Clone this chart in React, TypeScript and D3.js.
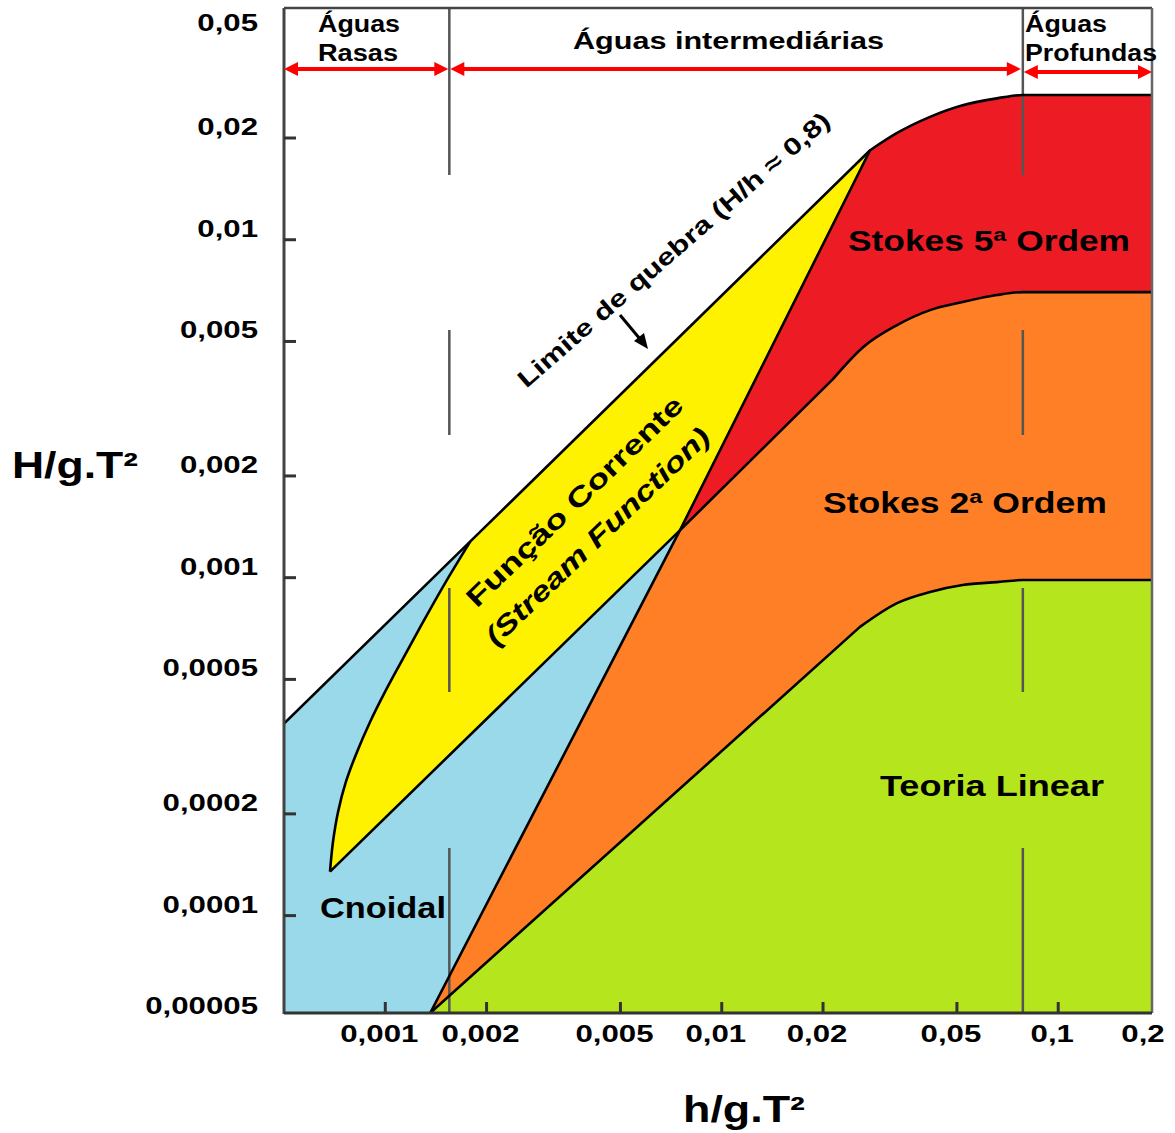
import React from "react";
import * as d3 from "d3";

// ---- data (h/gT², H/gT²) ----
const xTicks = [0.001, 0.002, 0.005, 0.01, 0.02, 0.05, 0.1, 0.2];
const xTickLabels = ["0,001", "0,002", "0,005", "0,01", "0,02", "0,05", "0,1", "0,2"];
const yTicks = [0.05, 0.02, 0.01, 0.005, 0.002, 0.001, 0.0005, 0.0002, 0.0001, 0.00005];
const yTickLabels = ["0,05", "0,02", "0,01", "0,005", "0,002", "0,001", "0,0005", "0,0002", "0,0001", "0,00005"];

// Breaking limit (H/h ≈ 0,8) – straight part then curved part
const breakingLimitStraight: [number, number][] = [
  [0.0005, 0.00037], [0.00179, 0.00128], [0.0276, 0.0184],
];
const breakingLimitCurve: [number, number][] = [
  [0.0276, 0.0184], [0.0332, 0.0207], [0.0416, 0.0231], [0.052, 0.025],
  [0.0657, 0.0262], [0.0785, 0.0268], [0.19, 0.0268],
];
// Lower limit of Stokes 5th order / Stream function
const stokes5LowerStraight: [number, number][] = [
  [0.000685, 0.000135], [0.00751, 0.00138], [0.0214, 0.00387],
];
const stokes5LowerCurve: [number, number][] = [
  [0.0214, 0.00387], [0.0263, 0.00481], [0.0332, 0.00559], [0.0416, 0.00619],
  [0.052, 0.00654], [0.0657, 0.00686], [0.0785, 0.007], [0.19, 0.007],
];
// Lower limit of Stokes 2nd order (upper limit of linear theory)
const stokes2LowerStraight: [number, number][] = [
  [0.00136, 0.0000515], [0.0257, 0.000714],
];
const stokes2LowerCurve: [number, number][] = [
  [0.0257, 0.000714], [0.0332, 0.000841], [0.0416, 0.000907],
  [0.052, 0.000951], [0.0657, 0.00097], [0.0785, 0.000984], [0.19, 0.000984],
];
// Cnoidal / Stokes boundary
const cnoidalLimit: [number, number][] = [
  [0.00136, 0.0000515], [0.00751, 0.00138], [0.0276, 0.0184],
];
// Left boundary of Stream Function region
const streamFunctionLeft: [number, number][] = [
  [0.000685, 0.000135], [0.000699, 0.000165], [0.000724, 0.000203], [0.000764, 0.000249],
  [0.000824, 0.000305], [0.000901, 0.000374], [0.000998, 0.000459], [0.00111, 0.000559],
  [0.00127, 0.000714], [0.0015, 0.000957], [0.00179, 0.00128],
];
const shallowLimit = 0.00155;
const deepLimit = 0.0785;

const X_DOMAIN: [number, number] = [0.0005, 0.19];
const Y_DOMAIN: [number, number] = [0.0000515, 0.0485];

const COLORS = {
  cnoidal: "#99D9EA",
  stream: "#FFF200",
  stokes5: "#ED1C24",
  stokes2: "#FF7F27",
  linear: "#B5E61D",
};

const FONT = "'Liberation Sans', Arial, Helvetica, sans-serif";

// ---- layout ----
const W = 1175, H = 1133;
const L = 284, R = 1152, T = 8, B = 1013;

type Pt = [number, number];

function Txt(props: { x: number; y: number; w: number; fs: number; text: string; rot?: number; italic?: boolean }) {
  const { x, y, w, fs, text, rot = 0, italic = false } = props;
  if (rot) {
    return (
      <text transform={`translate(${x},${y}) rotate(${rot})`} x={-w / 2} y={0} fontSize={fs} fontWeight="bold"
        fontStyle={italic ? "italic" : "normal"} fontFamily={FONT} textLength={w} lengthAdjust="spacingAndGlyphs" fill="#000">
        {text}
      </text>
    );
  }
  return (
    <text x={x} y={y} fontSize={fs} fontWeight="bold" fontFamily={FONT} textLength={w}
      fontStyle={italic ? "italic" : "normal"} lengthAdjust="spacingAndGlyphs" fill="#000">
      {text}
    </text>
  );
}

function Arrow2({ x1, x2, y }: { x1: number; x2: number; y: number }) {
  const hl = 14, hh = 7;
  return (
    <g>
      <line x1={x1 + hl - 2} x2={x2 - hl + 2} y1={y} y2={y} stroke="#FF0000" strokeWidth={4} />
      <polygon points={`${x1},${y} ${x1 + hl},${y - hh} ${x1 + hl},${y + hh}`} fill="#FF0000" />
      <polygon points={`${x2},${y} ${x2 - hl},${y - hh} ${x2 - hl},${y + hh}`} fill="#FF0000" />
    </g>
  );
}

export default function App() {
  const x = d3.scaleLog().domain(X_DOMAIN).range([L, R]);
  const y = d3.scaleLog().domain(Y_DOMAIN).range([B, T]);

  const lin = d3.line<Pt>().x((d) => x(d[0])).y((d) => y(d[1])).curve(d3.curveLinear);
  const smooth = d3.line<Pt>().x((d) => x(d[0])).y((d) => y(d[1])).curve(d3.curveMonotoneX);
  const catm = d3.line<Pt>().x((d) => x(d[0])).y((d) => y(d[1])).curve(d3.curveCatmullRom.alpha(0.5));

  const chain = (...parts: string[]) =>
    parts.map((p, i) => (i === 0 ? p : "L" + p.slice(1))).join("");
  const join = (...parts: string[]) => chain(...parts) + "Z";

  const xmin = X_DOMAIN[0], xmax = X_DOMAIN[1], ymin = Y_DOMAIN[0];
  const J = cnoidalLimit[1];
  const P2 = cnoidalLimit[2];
  const bottomStart = cnoidalLimit[0];

  const breakingPath = chain(lin(breakingLimitStraight)!, smooth(breakingLimitCurve)!);
  const stokes5Path = chain(lin(stokes5LowerStraight)!, smooth(stokes5LowerCurve)!);
  const stokes2Path = chain(lin(stokes2LowerStraight)!, smooth(stokes2LowerCurve)!);

  const cyanPath = join(
    lin([[xmin, ymin], ...breakingLimitStraight] as Pt[])!,
    lin([J, bottomStart])!
  );
  const redPath = join(
    lin([bottomStart, J, P2])!,
    smooth(breakingLimitCurve)!,
    lin([[xmax, ymin]])!
  );
  const yellowPath = join(
    catm(streamFunctionLeft)!,
    lin([breakingLimitStraight[1], P2, J])!,
    lin([stokes5LowerStraight[0]])!
  );
  const orangePath = join(
    lin([bottomStart, J, stokes5LowerStraight[2]])!,
    smooth(stokes5LowerCurve)!,
    lin([[xmax, ymin]])!
  );
  const greenPath = join(stokes2Path, lin([[xmax, ymin]])!);

  const xs = x(shallowLimit), xd = x(deepLimit);
  const dash = "167 155 105 153 104 156 170";

  return (
    <svg width={W} height={H} style={{ position: "absolute", left: 0, top: 0, background: "#fff" }}>
      <defs>
        <clipPath id="plot">
          <rect x={L} y={T} width={R - L} height={B - T} />
        </clipPath>
      </defs>
      <rect x={0} y={0} width={W} height={H} fill="#fff" />
      <g clipPath="url(#plot)">
        <path d={cyanPath} fill={COLORS.cnoidal} />
        <path d={redPath} fill={COLORS.stokes5} />
        <path d={yellowPath} fill={COLORS.stream} />
        <path d={orangePath} fill={COLORS.stokes2} />
        <path d={greenPath} fill={COLORS.linear} />
      </g>

      {/* divider lines */}
      <line x1={xs} x2={xs} y1={T} y2={B} stroke="#555" strokeWidth={2.5} strokeDasharray={dash} />
      <line x1={xd} x2={xd} y1={T} y2={B} stroke="#555" strokeWidth={2.5} strokeDasharray={dash} />

      <g clipPath="url(#plot)" fill="none" stroke="#000" strokeWidth={2.6} strokeLinejoin="round">
        <path d={breakingPath} />
        <path d={stokes5Path} />
        <path d={stokes2Path} />
        <path d={lin(cnoidalLimit)!} />
        <path d={catm(streamFunctionLeft)!} />
      </g>

      {/* frame & axes */}
      <line x1={L} x2={R} y1={T} y2={T} stroke="#444" strokeWidth={2.5} />
      <line x1={R} x2={R} y1={T} y2={B} stroke="#666" strokeWidth={2.5} />
      <line x1={L} x2={L} y1={T} y2={B + 1} stroke="#444" strokeWidth={3} />
      <line x1={L} x2={R} y1={B} y2={B} stroke="#333" strokeWidth={3} />

      {yTicks.map((v, i) => {
        const py = y(v);
        const inside = py > T + 2 && py < B - 2;
        const base = Math.max(py - 3, 31);
        return (
          <g key={"y" + i}>
            {inside && <line x1={L} x2={L + 12} y1={py} y2={py} stroke="#333" strokeWidth={3} />}
            <text transform={`translate(258,${base}) scale(1.3,1)`} textAnchor="end" fontSize={24}
              fontWeight="bold" fontFamily={FONT} fill="#000">{yTickLabels[i]}</text>
          </g>
        );
      })}
      {xTicks.map((v, i) => {
        const px = x(v);
        const inside = px > L + 2 && px < R - 2;
        const lx = Math.min(px - 6, 1143);
        return (
          <g key={"x" + i}>
            {inside && <line x1={px} x2={px} y1={B} y2={B - 11} stroke="#333" strokeWidth={3} />}
            <text transform={`translate(${lx},1042) scale(1.3,1)`} textAnchor="middle" fontSize={24}
              fontWeight="bold" fontFamily={FONT} fill="#000">{xTickLabels[i]}</text>
          </g>
        );
      })}

      {/* header */}
      <Arrow2 x1={L} x2={xs - 1} y={69} />
      <Arrow2 x1={xs + 1} x2={xd - 2} y={69} />
      <Arrow2 x1={xd + 1} x2={R} y={72} />
      <Txt x={318} y={32} w={82} fs={23} text="Águas" />
      <Txt x={318} y={61} w={80} fs={23} text="Rasas" />
      <Txt x={573} y={49} w={311} fs={23} text="Águas intermediárias" />
      <Txt x={1025} y={32} w={82} fs={23} text="Águas" />
      <Txt x={1025} y={61} w={132} fs={23} text="Profundas" />

      {/* axis titles */}
      <Txt x={12} y={478} w={126} fs={36} text="H/g.T²" />
      <Txt x={683} y={1122} w={122} fs={36} text="h/g.T²" />

      {/* region labels */}
      <Txt x={848} y={251} w={282} fs={29} text="Stokes 5ª Ordem" />
      <Txt x={823} y={513} w={284} fs={29} text="Stokes 2ª Ordem" />
      <Txt x={880} y={796} w={224} fs={29} text="Teoria Linear" />
      <Txt x={320} y={918} w={126} fs={30} text="Cnoidal" />

      <Txt x={679} y={256} w={405} fs={24} rot={-41} text="Limite de quebra (H/h ≈ 0,8)" />
      <Txt x={581} y={508} w={290} fs={27} rot={-44} text="Função Corrente" />
      <Txt x={604} y={543} w={300} fs={27} rot={-44} italic text="(Stream Function)" />

      {/* small arrow */}
      <line x1={620} y1={315} x2={640} y2={339} stroke="#000" strokeWidth={3} />
      <polygon points="648,349 634,341 644,333" fill="#000" />
    </svg>
  );
}
